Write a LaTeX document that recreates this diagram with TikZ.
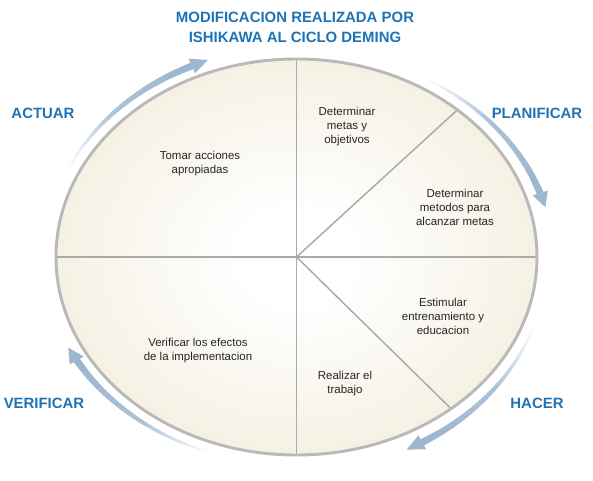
\documentclass[tikz,border=0pt]{standalone}
\usepackage{fontspec}
\setmainfont{Liberation Sans}
\usepackage{tikz}
\usetikzlibrary{calc}

\definecolor{titleblue}{RGB}{30,115,180}
\definecolor{arrowblue}{RGB}{158,183,208}
\definecolor{ovalcream}{RGB}{233,222,192}
\definecolor{rimgray}{RGB}{185,185,185}
\definecolor{linegray}{RGB}{170,170,170}

\pgfdeclareradialshading{ovalshade}{\pgfpoint{0bp}{0bp}}{%
  color(0bp)=(white); color(6bp)=(white); color(50bp)=(ovalcream)}

% tail angle, head angle, tail offset, head offset, shading angle
\newcommand{\cyclearrow}[5]{%
  \coordinate (hc) at ({(240.5+#4)*cos(#2)},{(198+#4)*sin(#2)});
  \coordinate (hn) at ({(240.5+#4)*cos(#2-1)},{(198+#4)*sin(#2-1)});
  \coordinate (tip) at ($(hc)!4!(hn)$);
  \coordinate (hin) at ({(232.5+#4)*cos(#2)},{(190+#4)*sin(#2)});
  \coordinate (hout) at ({(248.5+#4)*cos(#2)},{(206+#4)*sin(#2)});
  \path[arrowbody,shading angle=#5]
    plot[smooth,domain=0:1,samples=10,variable=\s]
      ({(240.5+#3+(#4-(#3))*\s-0.3-3.2*\s)*cos(#1+(#2-(#1))*\s)},
       {(198+#3+(#4-(#3))*\s-0.3-3.2*\s)*sin(#1+(#2-(#1))*\s)})
    -- (hin) -- (tip) -- (hout)
    -- plot[smooth,domain=0:1,samples=10,variable=\s]
      ({(240.5+#3+(#4-(#3))*(1-\s)+0.3+3.2*(1-\s))*cos(#1+(#2-(#1))*(1-\s))},
       {(198+#3+(#4-(#3))*(1-\s)+0.3+3.2*(1-\s))*sin(#1+(#2-(#1))*(1-\s))})
    -- cycle;}

\begin{document}
\begin{tikzpicture}[x=0.75pt,y=0.75pt,
    stage/.style={align=center,font=\fontsize{8.6}{10.5}\selectfont,text=black!85},
    phase/.style={align=center,font=\fontsize{11.2}{15}\selectfont\bfseries,text=titleblue},
    arrowbody/.style={top color=arrowblue,bottom color=white,middle color=arrowblue!85!white},
    divider/.style={draw=linegray,line width=1.1pt}]
  \useasboundingbox (-296.5,-223) rectangle (296.5,257);

  % oval and its sectors
  \coordinate (c) at (0,0);
  \coordinate (top) at (0,198);
  \coordinate (bot) at (0,-198);
  \coordinate (left) at (-240.5,0);
  \coordinate (right) at (240.5,0);
  \coordinate (ur) at ({240.5*cos(48)},{198*sin(48)});
  \coordinate (lr) at ({240.5*cos(-50)},{198*sin(-50)});
  \path[shading=ovalshade] (c) ellipse [x radius=240.5,y radius=198];
  \draw[divider] (top) -- (bot);
  \draw[divider] (left) -- (right);
  \draw[divider] (c) -- (ur);
  \draw[divider] (c) -- (lr);
  \draw[rimgray,line width=2.2pt] (c) ellipse [x radius=240.5,y radius=198];

  % cycle arrows
  \cyclearrow{165}{114.5}{11}{12}{-49}
  \cyclearrow{67}{17.5}{9}{15}{-133}
  \cyclearrow{-10}{-60.5}{10}{15}{139}
  \cyclearrow{-103}{-150.5}{10}{12}{56}

  % texts
  \node[phase] (title) at (-1.5,230) {MODIFICACION REALIZADA POR\\ISHIKAWA AL CICLO DEMING};
  \node[phase] (actuar) at (-253.5,144) {ACTUAR};
  \node[phase] (planificar) at (240.5,144) {PLANIFICAR};
  \node[phase] (verificar) at (-252.5,-146) {VERIFICAR};
  \node[phase] (hacer) at (240.5,-146) {HACER};

  \node[stage] (metas) at (50.5,130) {Determinar\\metas y\\objetivos};
  \node[stage] (metodos) at (158.5,50) {Determinar\\metodos para\\alcanzar metas};
  \node[stage] (estimular) at (146.5,-59) {Estimular\\entrenamiento y\\educacion};
  \node[stage] (realizar) at (48.5,-127) {Realizar el\\trabajo};
  \node[stage] (efectos) at (-98.5,-94) {Verificar los efectos\\de la implementacion};
  \node[stage] (tomar) at (-96.5,93) {Tomar acciones\\apropiadas};
\end{tikzpicture}
\end{document}
